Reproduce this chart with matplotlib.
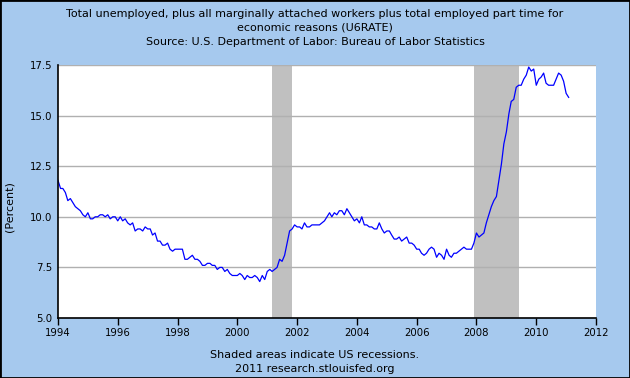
import numpy as np
import matplotlib.pyplot as plt
import matplotlib.dates as mdates
import datetime as dt

# U6 rate, monthly, Jan 1994 - Feb 2011 (percent)
u6 = [
    11.8, 11.4, 11.4, 11.2, 10.8, 10.9, 10.7, 10.5, 10.4, 10.3, 10.1, 10.0,   # 1994
    10.2, 9.9, 9.9, 10.0, 10.0, 10.1, 10.1, 10.0, 10.1, 9.9, 10.0, 10.0,      # 1995
    9.8, 10.0, 9.8, 9.9, 9.7, 9.6, 9.7, 9.3, 9.4, 9.4, 9.3, 9.5,             # 1996
    9.4, 9.4, 9.1, 9.2, 8.8, 8.8, 8.6, 8.6, 8.7, 8.4, 8.3, 8.4,              # 1997
    8.4, 8.4, 8.4, 7.9, 7.9, 8.0, 8.1, 7.9, 7.9, 7.8, 7.6, 7.6,              # 1998
    7.7, 7.7, 7.6, 7.6, 7.4, 7.5, 7.5, 7.3, 7.4, 7.2, 7.1, 7.1,              # 1999
    7.1, 7.2, 7.1, 6.9, 7.1, 7.0, 7.0, 7.1, 7.0, 6.8, 7.1, 6.9,              # 2000
    7.3, 7.4, 7.3, 7.4, 7.5, 7.9, 7.8, 8.1, 8.7, 9.3, 9.4, 9.6,              # 2001
    9.5, 9.5, 9.4, 9.7, 9.5, 9.5, 9.6, 9.6, 9.6, 9.6, 9.7, 9.8,              # 2002
    10.0, 10.2, 10.0, 10.2, 10.1, 10.3, 10.3, 10.1, 10.4, 10.2, 10.0, 9.8,   # 2003
    9.9, 9.7, 10.0, 9.6, 9.6, 9.5, 9.5, 9.4, 9.4, 9.7, 9.4, 9.2,             # 2004
    9.3, 9.3, 9.1, 8.9, 8.9, 9.0, 8.8, 8.9, 9.0, 8.7, 8.7, 8.6,              # 2005
    8.4, 8.4, 8.2, 8.1, 8.2, 8.4, 8.5, 8.4, 8.0, 8.2, 8.1, 7.9,              # 2006
    8.4, 8.1, 8.0, 8.2, 8.2, 8.3, 8.4, 8.5, 8.4, 8.4, 8.4, 8.7,              # 2007
    9.2, 9.0, 9.1, 9.2, 9.7, 10.1, 10.5, 10.8, 11.0, 11.8, 12.6, 13.6,       # 2008
    14.2, 15.1, 15.7, 15.8, 16.4, 16.5, 16.5, 16.8, 17.0, 17.4, 17.2, 17.3,  # 2009
    16.5, 16.8, 16.9, 17.1, 16.6, 16.5, 16.5, 16.5, 16.8, 17.1, 17.0, 16.7,  # 2010
    16.1, 15.9,                                                               # 2011
]
dates = [dt.date(1994 + i // 12, i % 12 + 1, 1) for i in range(len(u6))]

recessions = [(dt.date(2001, 3, 1), dt.date(2001, 11, 1)),
              (dt.date(2007, 12, 1), dt.date(2009, 6, 1))]

bg = '#A6C9EE'

fig = plt.figure(figsize=(6.3, 3.78), dpi=100, facecolor=bg)
fig.patches.append(plt.Rectangle((0, 0), 1, 1, transform=fig.transFigure,
                                 fill=False, edgecolor='black', linewidth=2))
ax = fig.add_axes([58 / 630, 60 / 378, 538 / 630, 253 / 378])
ax.set_facecolor('white')

for start, end in recessions:
    ax.axvspan(start, end, color='#C0C0C0', linewidth=0, zorder=1)

ax.plot(dates, u6, color='blue', linewidth=0.9, zorder=3)

# Ejes
ax.set_xlim(dt.date(1994, 1, 1), dt.date(2012, 1, 1))
ax.set_ylim(5.0, 17.5)
ax.set_yticks([5.0, 7.5, 10.0, 12.5, 15.0, 17.5])
ax.set_yticklabels(['5.0', '7.5', '10.0', '12.5', '15.0', '17.5'])
ax.xaxis.set_major_locator(mdates.YearLocator(2))
ax.xaxis.set_major_formatter(mdates.DateFormatter('%Y'))
ax.tick_params(axis='x', direction='out', length=5, width=1, labelsize=7.3, pad=2)
ax.tick_params(axis='y', length=0, labelsize=7.3, pad=4)
ax.grid(axis='y', color='#B0B0B0', linewidth=1, zorder=2)
ax.set_axisbelow(False)
for s in ['top', 'right']:
    ax.spines[s].set_visible(False)
for s in ['left', 'bottom']:
    ax.spines[s].set_linewidth(1.2)
    ax.spines[s].set_zorder(4)
fig.text(10 / 630, 1 - 207 / 378, '(Percent)', rotation=90, ha='center', va='center', fontsize=8)

fig.text(0.5, 1 - 14 / 378, 'Total unemployed, plus all marginally attached workers plus total employed part time for',
         ha='center', va='center', fontsize=8)
fig.text(0.5, 1 - 28 / 378, 'economic reasons (U6RATE)', ha='center', va='center', fontsize=8)
fig.text(0.5, 1 - 42 / 378, 'Source: U.S. Department of Labor: Bureau of Labor Statistics',
         ha='center', va='center', fontsize=8)
fig.text(0.5, 1 - 355 / 378, 'Shaded areas indicate US recessions.', ha='center', va='center', fontsize=8)
fig.text(0.5, 1 - 369 / 378, '2011 research.stlouisfed.org', ha='center', va='center', fontsize=8)

plt.savefig('out.png', facecolor=bg)
